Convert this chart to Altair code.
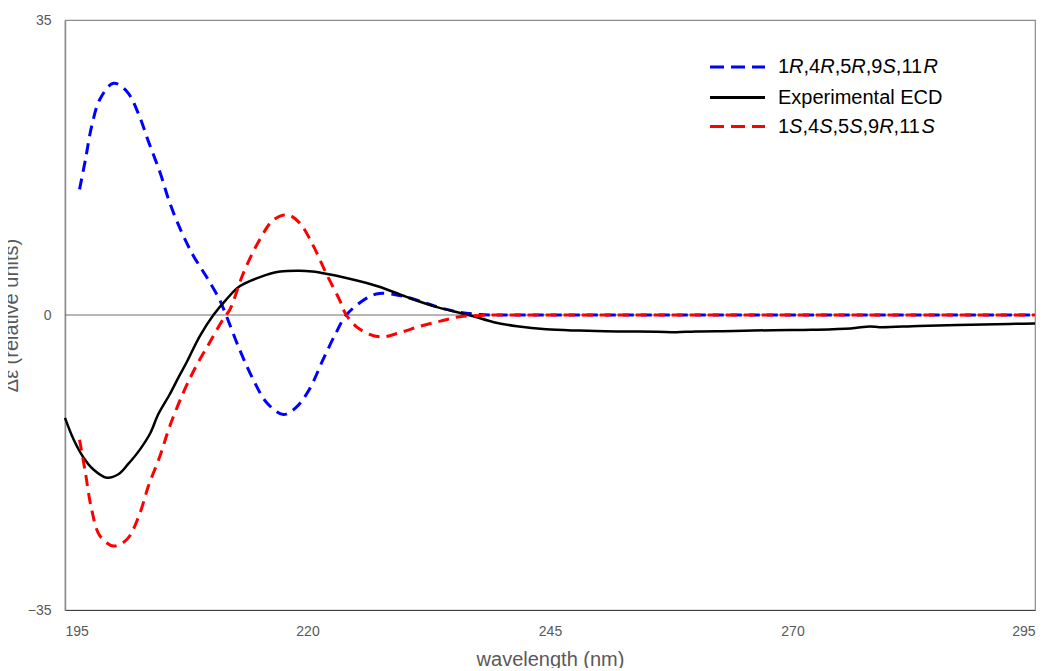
import altair as alt
import pandas as pd

# ---------------- data ----------------
wl_r = [196.5, 197.1, 197.75, 198.6, 200.0, 201.4, 202.6, 203.6, 204.8, 205.8, 207.0, 208.2,
        209.6, 210.9, 211.6, 213.0, 214.4, 215.8, 217.5, 218.8, 220.2, 221.6, 222.95, 224.0,
        226.1, 227.4, 229.5, 231.6, 233.7, 235.7, 237.8, 240.0, 250.0, 260.0, 270.0, 280.0, 295.0]
de_r = [14.9, 18.4, 22.4, 25.6, 27.5, 26.5, 23.8, 20.6, 16.9, 13.3, 9.9, 7.1,
        4.5, 1.9, 0.0, -4.1, -7.65, -10.4, -11.8, -11.0, -8.8, -5.3, -2.1, 0.0,
        2.0, 2.55, 2.3, 1.65, 0.85, 0.33, 0.05, 0.0, 0.0, 0.0, 0.0, 0.0, 0.0]

wl_s = [196.5, 197.1, 197.75, 198.6, 200.0, 201.4, 202.6, 203.6, 204.8, 205.8, 207.2, 208.5,
        209.9, 211.3, 212.0, 213.4, 215.1, 216.5, 217.9, 219.2, 220.6, 221.9, 223.3, 224.0,
        225.4, 227.5, 229.5, 231.6, 233.7, 235.7, 237.8, 240.0, 250.0, 260.0, 270.0, 280.0, 295.0]
de_s = [-14.8, -18.7, -23.1, -26.2, -27.4, -26.6, -23.9, -20.3, -16.7, -13.2, -9.2, -6.1,
        -3.3, -0.5, 0.65, 5.0, 9.0, 11.3, 11.9, 10.9, 8.2, 5.0, 1.8, 0.0,
        -1.7, -2.6, -2.1, -1.33, -0.73, -0.2, -0.05, 0.0, 0.0, 0.0, 0.0, 0.0, 0.0]

wl_exp = [195.0, 195.9, 196.9, 197.9, 199.3, 200.5, 201.5, 202.7, 203.8, 204.6, 205.8, 206.7,
          207.5, 208.9, 210.3, 211.6, 213.0, 215.1, 217.2, 219.2, 220.5, 221.9, 224.0, 226.1,
          227.4, 230.2, 233.0, 235.0, 237.1, 239.2, 241.6, 244.6, 248.0, 252.0, 256.0, 258.0,
          260.0, 264.0, 268.0, 272.0, 276.0, 278.0, 279.0, 283.0, 287.0, 291.0, 293.0, 295.0]
de_exp = [-12.2, -14.8, -16.9, -18.3, -19.3, -18.9, -17.7, -16.0, -14.0, -11.8, -9.4, -7.4,
          -5.7, -2.5, 0.0, 1.8, 3.4, 4.5, 5.15, 5.25, 5.15, 4.9, 4.4, 3.8,
          3.35, 2.15, 1.05, 0.45, -0.15, -0.85, -1.33, -1.7, -1.85, -1.95, -1.98, -2.05,
          -1.95, -1.9, -1.8, -1.75, -1.6, -1.35, -1.45, -1.3, -1.2, -1.1, -1.05, -1.0]

x_ticks = [195, 220, 245, 270, 295]
y_ticks = [-35, 0, 35]
x_domain = [195, 295]
y_domain = [-35, 35]

# legend label pieces: (text, italic)
legend_rows = [
    [("1", False), ("R", True), (",4", False), ("R", True), (",5", False), ("R", True),
     (",9", False), ("S", True), (",11", False), ("R", True)],
    [("Experimental ECD", False)],
    [("1", False), ("S", True), (",4", False), ("S", True), (",5", False), ("S", True),
     (",9", False), ("R", True), (",11", False), ("S", True)],
]
legend_colors = ["#0000FF", "#000000", "#FF0000"]
legend_dash = [[14, 7], [1, 0], [14, 7]]

# ---------------- layout helpers ----------------
W, H = 970, 590
FS_LEG = 20
FONT = "Liberation Sans"
# Arial/Liberation advance widths (em)
adv = {c: 0.556 for c in "0123456789"}
adv.update({",": 0.278, "R": 0.722, "S": 0.667})

def px_to_x(px):
    return x_domain[0] + px * (x_domain[1] - x_domain[0]) / W

def py_to_y(py):
    return y_domain[1] - py * (y_domain[1] - y_domain[0]) / H

row_py = [47, 77.5, 106.5]
text_px0 = 713
seg = []
for r, pieces in enumerate(legend_rows):
    px = text_px0
    for t, it in pieces:
        seg.append({"x": px_to_x(px), "y": py_to_y(row_py[r]), "txt": t, "italic": it})
        px += sum(adv.get(c, 0.55) for c in t) * FS_LEG
seg_df = pd.DataFrame(seg)

df_r = pd.DataFrame({"wl": wl_r, "de": de_r})
df_s = pd.DataFrame({"wl": wl_s, "de": de_s})
df_e = pd.DataFrame({"wl": wl_exp, "de": de_exp})

xenc = alt.X("wl:Q", scale=alt.Scale(domain=x_domain, nice=False, zero=False),
             axis=alt.Axis(values=x_ticks, title="wavelength (nm)", grid=False, ticks=False,
                           labelFontSize=14, labelColor="#595959", labelPadding=14,
                           labelFont=FONT, domainColor="#404040", domainWidth=1.2,
                           titleFont=FONT, titleFontSize=20, titleColor="#595959",
                           titleFontWeight="normal", titleY=55, titleBaseline="alphabetic"))
yenc = alt.Y("de:Q", scale=alt.Scale(domain=y_domain, nice=False, zero=False),
             axis=alt.Axis(values=y_ticks, title="Δε (relative units)", grid=False, ticks=False,
                           labelFontSize=14, labelColor="#595959", labelPadding=14,
                           labelFont=FONT, domainColor="#8c8c8c", domainWidth=1.5,
                           titleFont=FONT, titleFontSize=20, titleColor="#595959",
                           titleFontWeight="normal", titleX=-48, titleY=295,
                           titleAngle=-90, titleAlign="center", titleBaseline="alphabetic"))

zero = alt.Chart(pd.DataFrame({"z": [0]})).mark_rule(color="#6e6e6e", strokeWidth=1.2).encode(
    y=alt.Y("z:Q", scale=alt.Scale(domain=y_domain, nice=False, zero=False)))

INTERP = "catmull-rom"
blue = alt.Chart(df_r).mark_line(color="#0000FF", strokeWidth=3, strokeDash=[11, 7],
                                 interpolate=INTERP).encode(x=xenc, y=yenc)
black = alt.Chart(df_e).mark_line(color="#000000", strokeWidth=2.5,
                                  interpolate=INTERP).encode(x=xenc, y=yenc)
red = alt.Chart(df_s).mark_line(color="#FF0000", strokeWidth=3, strokeDash=[11, 7],
                                interpolate=INTERP).encode(x=xenc, y=yenc)

leg_rules = []
for i in range(3):
    leg_rules.append(
        alt.Chart(pd.DataFrame({"a": [0]})).mark_rule(
            color=legend_colors[i], strokeWidth=3, strokeDash=legend_dash[i]
        ).encode(x=alt.value(645), x2=alt.value(700), y=alt.value(row_py[i]))
    )

txt_norm = alt.Chart(seg_df).transform_filter("!datum.italic").mark_text(
    align="left", baseline="middle", font=FONT, fontSize=FS_LEG, color="#000000"
).encode(x="x:Q", y="y:Q", text="txt:N")
txt_it = alt.Chart(seg_df).transform_filter("datum.italic").mark_text(
    align="left", baseline="middle", font=FONT, fontSize=FS_LEG, fontStyle="italic", color="#000000"
).encode(x="x:Q", y="y:Q", text="txt:N")

chart = alt.layer(zero, blue, black, red, *leg_rules, txt_norm, txt_it).properties(
    width=W, height=H,
    autosize=alt.AutoSizeParams(type="none"),
    padding={"left": 57, "top": 12, "right": 5, "bottom": 58},
).configure_view(stroke="#8c8c8c", strokeWidth=1.2)

chart.save("out.html", embed_options={"renderer": "svg", "actions": False})
